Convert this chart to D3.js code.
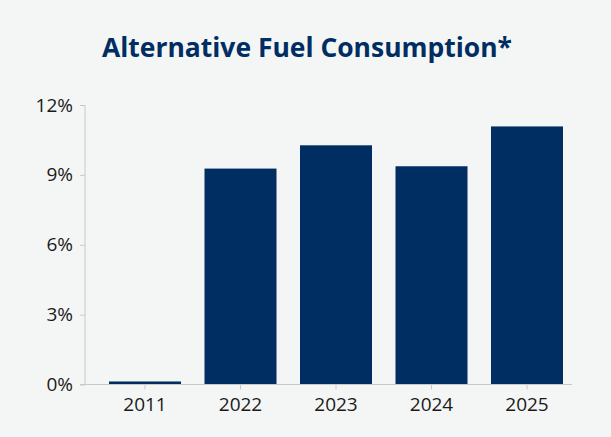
<!DOCTYPE html>
<html><head><meta charset="utf-8">
<script src="https://cdn.jsdelivr.net/npm/d3@7"></script>
<style>
html,body{margin:0;padding:0;background:#f4f6f5;}
svg{display:block;}
</style></head>
<body>
<script>
const categories = ["2011","2022","2023","2024","2025"];
const values = [0.13, 9.27, 10.27, 9.37, 11.08];
const yTicks = [0, 3, 6, 9, 12];
const title = "Alternative Fuel Consumption*";

const W = 611, H = 437;
const svg = d3.select("body").append("svg").attr("width", W).attr("height", H);
svg.append("rect").attr("width", W).attr("height", H).attr("fill", "#f4f6f5");

const navy = "#002d62";
const x = d3.scaleBand().domain(categories).range([109, 563]).paddingInner(0.246).paddingOuter(0);
const y = d3.scaleLinear().domain([0, 12]).range([384.5, 105]);

svg.append("text").attr("x", 307).attr("y", 57).attr("text-anchor", "middle")
  .attr("font-family", "'Open Sans', sans-serif").attr("font-weight", 700)
  .attr("font-size", 26).attr("fill", navy)
  .attr("textLength", 410).attr("lengthAdjust", "spacingAndGlyphs").text(title);

// y axis
const yAxis = svg.append("g").attr("transform", "translate(85,0)")
  .call(d3.axisLeft(y).tickValues(yTicks).tickFormat(d => d + "%").tickSize(5).tickPadding(7));
yAxis.select(".domain").attr("stroke", "#c8c8c8").attr("d", `M0,${y(12)}V${y(0)}`);
yAxis.selectAll(".tick line").attr("stroke", "#c8c8c8");
yAxis.selectAll(".tick text").attr("font-family", "'Open Sans', sans-serif").attr("font-size", 19).attr("fill", "#1a1a1a");

// bars
svg.selectAll("rect.bar").data(values).enter().append("rect").attr("class", "bar")
  .attr("x", (d, i) => x(categories[i])).attr("width", x.bandwidth())
  .attr("y", d => y(d)).attr("height", d => y(0) - y(d)).attr("fill", navy);

// x axis
const xAxis = svg.append("g").attr("transform", `translate(0,${y(0)})`)
  .call(d3.axisBottom(x).tickSize(5).tickPadding(8));
xAxis.select(".domain").attr("stroke", "#c8c8c8").attr("d", "M80,0H572");
xAxis.selectAll(".tick line").attr("stroke", "#c8c8c8");
xAxis.selectAll(".tick text").attr("font-family", "'Open Sans', sans-serif").attr("font-size", 19).attr("fill", "#1a1a1a");
</script>
</body></html>
